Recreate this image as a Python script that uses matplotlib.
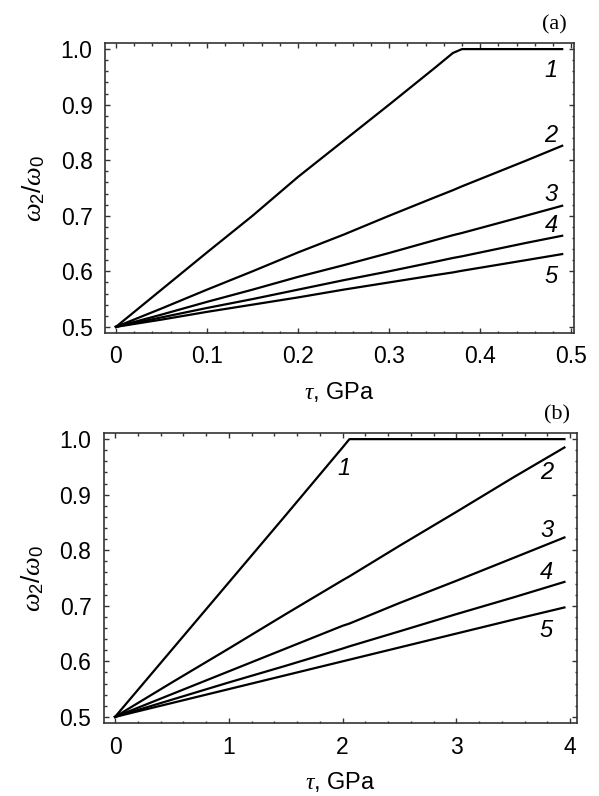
import matplotlib
matplotlib.use("Agg")
from matplotlib import pyplot as plt
from matplotlib.ticker import MultipleLocator

plt.rcParams['font.family'] = ['Liberation Sans', 'DejaVu Sans']
plt.rcParams['mathtext.fontset'] = 'custom'
plt.rcParams['mathtext.rm'] = 'Liberation Sans'
plt.rcParams['mathtext.it'] = 'Liberation Serif:italic'

# panel (a): tau in GPa
tau_a = [0, 0.05, 0.10, 0.15, 0.20, 0.25, 0.30, 0.35, 0.37, 0.38, 0.45, 0.49]
a1 = [0.5, 0.567, 0.634, 0.700, 0.770, 0.835, 0.900, 0.966, 0.993, 1.0, 1.0, 1.0]
a2 = [0.5, 0.533, 0.567, 0.600, 0.634, 0.666, 0.700, 0.733, 0.746, 0.753, 0.799, 0.826]
a3 = [0.5, 0.522, 0.545, 0.567, 0.590, 0.611, 0.633, 0.656, 0.665, 0.669, 0.700, 0.718]
a4 = [0.5, 0.517, 0.534, 0.550, 0.567, 0.584, 0.600, 0.617, 0.624, 0.627, 0.651, 0.664]
a5 = [0.5, 0.513, 0.527, 0.540, 0.553, 0.567, 0.580, 0.593, 0.598, 0.601, 0.620, 0.631]

# panel (b)
tau_b = [0, 0.5, 1.0, 1.5, 2.0, 2.06, 2.5, 3.0, 3.5, 3.95]
b1 = [0.5, 0.621, 0.742, 0.863, 0.985, 1.0, 1.0, 1.0, 1.0, 1.0]
b2 = [0.5, 0.562, 0.623, 0.685, 0.746, 0.753, 0.808, 0.869, 0.931, 0.985]
b3 = [0.5, 0.541, 0.582, 0.623, 0.664, 0.668, 0.705, 0.745, 0.786, 0.823]
b4 = [0.5, 0.531, 0.562, 0.592, 0.623, 0.627, 0.654, 0.685, 0.715, 0.743]
b5 = [0.5, 0.525, 0.550, 0.575, 0.600, 0.603, 0.625, 0.650, 0.675, 0.697]

curve_names = ["1", "2", "3", "4", "5"]
# label positions (data coords)
lab_a = [(0.485, 0.962), (0.485, 0.845), (0.485, 0.738), (0.485, 0.683), (0.485, 0.590)]
lab_b = [(2.07, 0.948), (3.85, 0.940), (3.85, 0.836), (3.85, 0.760), (3.85, 0.655)]

fig = plt.figure(figsize=(5.99, 7.96), dpi=100)
ax_a = fig.add_axes([0.1753, 0.5817, 0.783, 0.3643])
ax_b = fig.add_axes([0.1736, 0.0917, 0.7896, 0.3643])


def style(ax, xmaj, xmin):
    ax.xaxis.set_major_locator(MultipleLocator(xmaj))
    ax.xaxis.set_minor_locator(MultipleLocator(xmin))
    ax.yaxis.set_major_locator(MultipleLocator(0.1))
    ax.yaxis.set_minor_locator(MultipleLocator(0.02))
    ax.tick_params(which='both', direction='in', top=True, right=True,
                   labelsize=16.5, pad=9, width=1.0, color='#333333')
    ax.tick_params(which='major', length=3.5)
    ax.tick_params(which='minor', length=1.8)
    for s in ax.spines.values():
        s.set_linewidth(1.2)
        s.set_color('#333333')
    ax.set_ylim(0.489, 1.011)
    ax.set_yticks([0.5, 0.6, 0.7, 0.8, 0.9, 1.0])
    ax.set_yticklabels(["0.5", "0.6", "0.7", "0.8", "0.9", "1.0"])
    ax.set_ylabel(r'$\omega_2/\omega_0$', fontsize=19, labelpad=10)
    ax.set_xlabel(r'$\tau$, GPa', fontsize=17, labelpad=8)


for ys in [a1, a2, a3, a4, a5]:
    ax_a.plot(tau_a, ys, color='black', lw=1.6)
style(ax_a, 0.1, 0.02)
ax_a.set_xlim(-0.012, 0.503)
ax_a.set_xticks([0, 0.1, 0.2, 0.3, 0.4, 0.5])
ax_a.set_xticklabels(["0", "0.1", "0.2", "0.3", "0.4", "0.5"])
for name, (x, y) in zip(curve_names, lab_a):
    ax_a.text(x, y, name, fontsize=17, style='italic', ha='right', va='center')
ax_a.text(0.985, 1.03, "(a)", transform=ax_a.transAxes, ha='right', va='bottom',
          fontsize=16, family='Liberation Serif')

for ys in [b1, b2, b3, b4, b5]:
    ax_b.plot(tau_b, ys, color='black', lw=1.6)
style(ax_b, 1, 0.2)
ax_b.set_xlim(-0.097, 4.06)
ax_b.set_xticks([0, 1, 2, 3, 4])
for name, (x, y) in zip(curve_names, lab_b):
    ax_b.text(x, y, name, fontsize=17, style='italic', ha='right', va='center')
ax_b.text(0.985, 1.03, "(b)", transform=ax_b.transAxes, ha='right', va='bottom',
          fontsize=16, family='Liberation Serif')

fig.savefig("out.png", dpi=100)
